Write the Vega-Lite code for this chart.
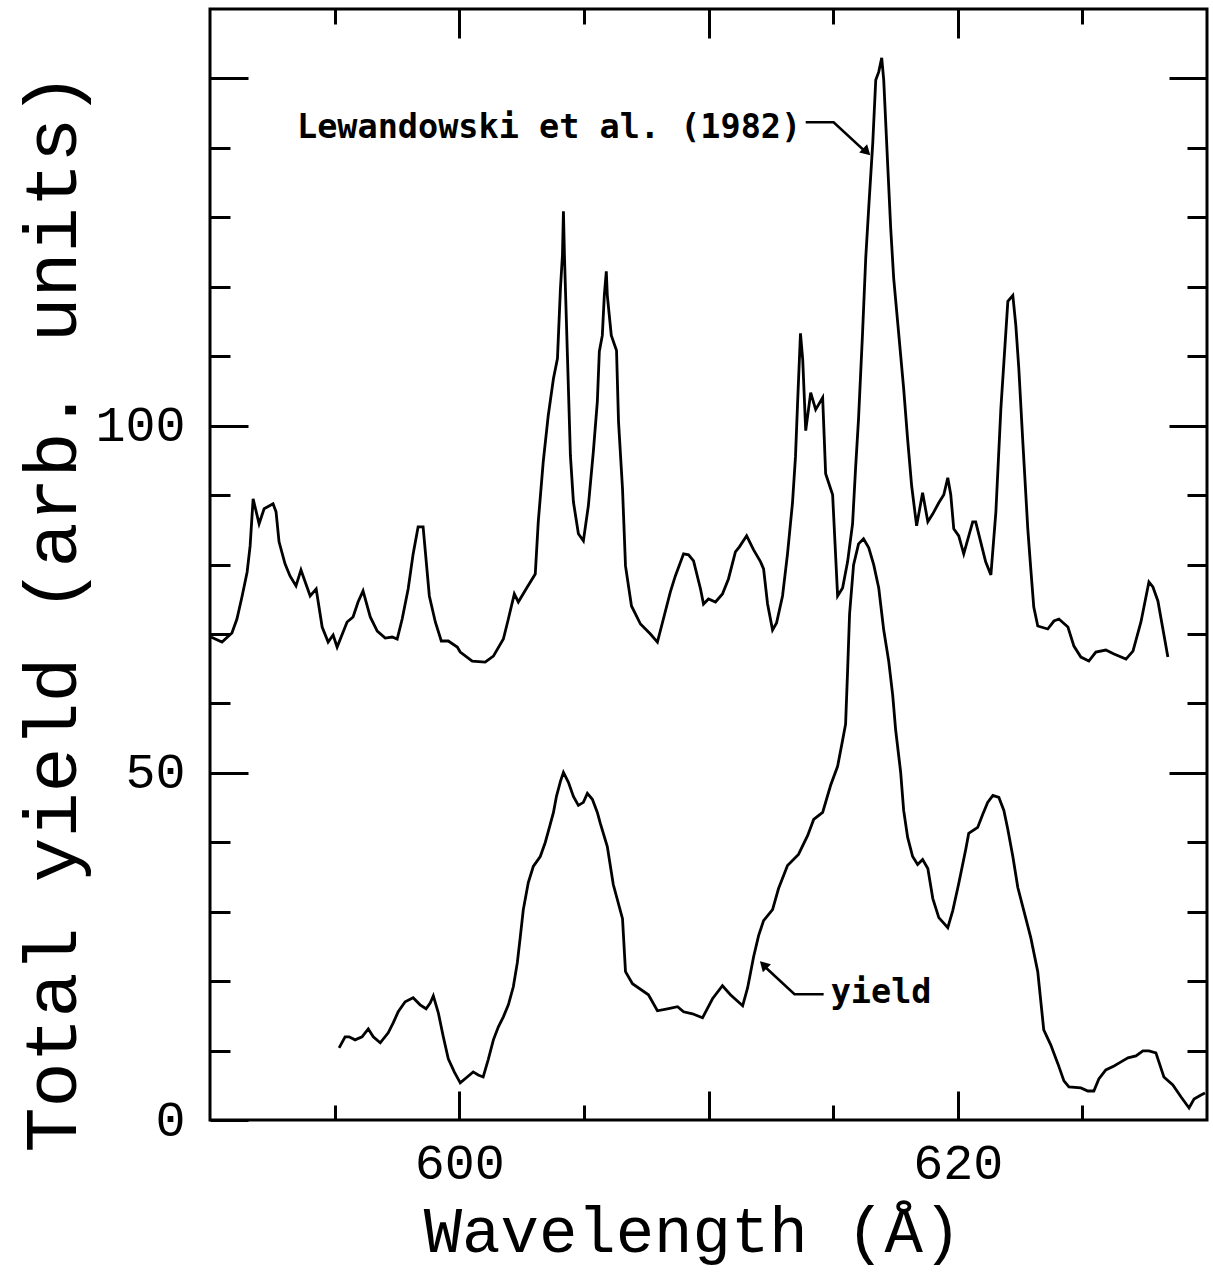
{
  "$schema": "https://vega.github.io/schema/vega-lite/v6.json",
  "width": 997,
  "height": 1111,
  "autosize": {"type": "none"},
  "padding": {"left": 210, "top": 9, "right": 6, "bottom": 157},
  "background": "white",
  "config": {
    "view": {"stroke": "black", "strokeWidth": 3},
    "axis": {"domain": false, "grid": false, "tickColor": "black", "tickWidth": 3, "labelColor": "black", "titleColor": "black", "labelFlush": false, "labelOverlap": false, "labelFont": "Liberation Mono", "titleFont": "Liberation Mono", "titleFontWeight": "normal"}
  },
  "datasets": {
    "lew": [
      {"w":590.04,"v":69.55},{"w":590.48,"v":68.83},{"w":590.88,"v":70.13},{"w":591.08,"v":72.15},{"w":591.29,"v":75.47},{"w":591.49,"v":78.93},{"w":591.61,"v":82.68},{"w":591.73,"v":89.47},{"w":591.97,"v":85.86},{"w":592.17,"v":88.02},{"w":592.53,"v":88.74},{"w":592.65,"v":87.59},{"w":592.77,"v":83.26},{"w":593.01,"v":80.09},{"w":593.21,"v":78.35},{"w":593.45,"v":76.91},{"w":593.65,"v":79.22},{"w":593.82,"v":77.49},{"w":594.02,"v":75.47},{"w":594.26,"v":76.48},{"w":594.50,"v":70.99},{"w":594.74,"v":68.83},{"w":594.94,"v":69.84},{"w":595.10,"v":68.11},{"w":595.50,"v":71.72},{"w":595.74,"v":72.44},{"w":595.94,"v":74.60},{"w":596.14,"v":76.19},{"w":596.43,"v":72.44},{"w":596.71,"v":70.42},{"w":597.03,"v":69.41},{"w":597.31,"v":69.55},{"w":597.51,"v":69.26},{"w":597.71,"v":72.15},{"w":597.95,"v":76.48},{"w":598.15,"v":81.53},{"w":598.35,"v":85.43},{"w":598.55,"v":85.43},{"w":598.80,"v":75.47},{"w":599.04,"v":71.72},{"w":599.28,"v":68.98},{"w":599.56,"v":68.98},{"w":599.92,"v":68.11},{"w":600.04,"v":67.39},{"w":600.52,"v":66.09},{"w":601.04,"v":65.95},{"w":601.37,"v":66.81},{"w":601.77,"v":69.26},{"w":601.97,"v":72.15},{"w":602.21,"v":75.76},{"w":602.37,"v":74.60},{"w":602.73,"v":76.77},{"w":603.05,"v":78.64},{"w":603.17,"v":86.15},{"w":603.37,"v":94.81},{"w":603.57,"v":101.44},{"w":603.78,"v":106.78},{"w":603.94,"v":109.67},{"w":604.06,"v":119.77},{"w":604.14,"v":124.53},{"w":604.18,"v":130.88},{"w":604.22,"v":124.53},{"w":604.34,"v":110.10},{"w":604.46,"v":95.67},{"w":604.58,"v":89.03},{"w":604.78,"v":84.42},{"w":604.98,"v":83.41},{"w":605.18,"v":88.46},{"w":605.38,"v":96.25},{"w":605.54,"v":103.46},{"w":605.62,"v":110.68},{"w":605.74,"v":112.99},{"w":605.82,"v":118.76},{"w":605.90,"v":122.22},{"w":605.94,"v":118.76},{"w":606.10,"v":112.99},{"w":606.31,"v":110.82},{"w":606.39,"v":100.58},{"w":606.55,"v":90.91},{"w":606.67,"v":79.80},{"w":606.91,"v":74.03},{"w":607.27,"v":71.43},{"w":607.67,"v":69.99},{"w":607.95,"v":68.83},{"w":608.19,"v":72.15},{"w":608.47,"v":76.05},{"w":608.67,"v":78.35},{"w":609.00,"v":81.53},{"w":609.20,"v":81.39},{"w":609.40,"v":80.52},{"w":609.68,"v":76.48},{"w":609.80,"v":74.31},{"w":610.00,"v":75.04},{"w":610.28,"v":74.60},{"w":610.56,"v":75.76},{"w":610.80,"v":77.92},{"w":611.08,"v":81.82},{"w":611.24,"v":82.54},{"w":611.53,"v":84.13},{"w":611.81,"v":82.11},{"w":612.09,"v":80.38},{"w":612.21,"v":79.37},{"w":612.37,"v":74.31},{"w":612.57,"v":70.56},{"w":612.73,"v":71.57},{"w":612.97,"v":75.47},{"w":613.17,"v":81.53},{"w":613.37,"v":88.89},{"w":613.49,"v":95.53},{"w":613.57,"v":102.89},{"w":613.69,"v":113.28},{"w":613.78,"v":109.52},{"w":613.90,"v":99.28},{"w":614.10,"v":104.76},{"w":614.30,"v":102.31},{"w":614.58,"v":104.04},{"w":614.70,"v":93.07},{"w":614.98,"v":90.04},{"w":615.18,"v":75.47},{"w":615.38,"v":76.62},{"w":615.58,"v":80.38},{"w":615.78,"v":85.86},{"w":615.90,"v":93.80},{"w":616.02,"v":101.01},{"w":616.18,"v":113.28},{"w":616.31,"v":124.24},{"w":616.43,"v":131.46},{"w":616.59,"v":140.69},{"w":616.71,"v":149.78},{"w":616.83,"v":150.94},{"w":616.95,"v":152.96},{"w":617.03,"v":149.78},{"w":617.19,"v":137.52},{"w":617.31,"v":128.43},{"w":617.43,"v":121.21},{"w":617.63,"v":113.28},{"w":617.83,"v":105.34},{"w":617.99,"v":97.98},{"w":618.15,"v":91.34},{"w":618.35,"v":85.57},{"w":618.59,"v":90.33},{"w":618.80,"v":86.15},{"w":619.00,"v":87.30},{"w":619.24,"v":88.89},{"w":619.44,"v":90.04},{"w":619.60,"v":92.50},{"w":619.72,"v":90.04},{"w":619.84,"v":85.14},{"w":620.04,"v":84.13},{"w":620.24,"v":81.53},{"w":620.60,"v":86.15},{"w":620.72,"v":86.15},{"w":620.92,"v":83.26},{"w":621.12,"v":80.38},{"w":621.33,"v":78.50},{"w":621.53,"v":87.59},{"w":621.73,"v":102.45},{"w":622.01,"v":117.89},{"w":622.21,"v":118.76},{"w":622.33,"v":114.43},{"w":622.45,"v":108.23},{"w":622.61,"v":97.69},{"w":622.81,"v":85.14},{"w":622.93,"v":79.37},{"w":623.05,"v":73.88},{"w":623.21,"v":71.14},{"w":623.61,"v":70.71},{"w":623.86,"v":71.86},{"w":624.06,"v":72.15},{"w":624.42,"v":71.00},{"w":624.66,"v":68.25},{"w":624.94,"v":66.67},{"w":625.26,"v":66.09},{"w":625.54,"v":67.39},{"w":625.94,"v":67.68},{"w":626.27,"v":67.10},{"w":626.75,"v":66.38},{"w":627.03,"v":67.53},{"w":627.35,"v":71.72},{"w":627.67,"v":77.49},{"w":627.83,"v":76.77},{"w":628.03,"v":74.75},{"w":628.43,"v":66.67}
    ],
    "yld": [
      {"w":595.18,"v":10.39},{"w":595.42,"v":11.98},{"w":595.58,"v":11.98},{"w":595.82,"v":11.54},{"w":596.10,"v":11.98},{"w":596.35,"v":13.13},{"w":596.55,"v":11.98},{"w":596.83,"v":11.11},{"w":597.15,"v":12.55},{"w":597.35,"v":14.00},{"w":597.55,"v":15.58},{"w":597.83,"v":17.03},{"w":598.15,"v":17.60},{"w":598.43,"v":16.59},{"w":598.67,"v":16.02},{"w":598.84,"v":16.88},{"w":598.96,"v":17.89},{"w":599.16,"v":15.44},{"w":599.36,"v":11.98},{"w":599.56,"v":8.80},{"w":599.80,"v":6.93},{"w":600.04,"v":5.34},{"w":600.32,"v":6.20},{"w":600.56,"v":6.93},{"w":600.76,"v":6.49},{"w":600.96,"v":6.20},{"w":601.16,"v":8.66},{"w":601.37,"v":11.54},{"w":601.57,"v":13.42},{"w":601.77,"v":14.86},{"w":601.97,"v":16.59},{"w":602.17,"v":19.19},{"w":602.33,"v":22.66},{"w":602.45,"v":26.41},{"w":602.57,"v":30.30},{"w":602.77,"v":34.20},{"w":602.97,"v":36.51},{"w":603.25,"v":37.95},{"w":603.45,"v":39.97},{"w":603.65,"v":42.57},{"w":603.78,"v":44.30},{"w":603.90,"v":46.61},{"w":604.06,"v":48.77},{"w":604.18,"v":50.07},{"w":604.38,"v":48.63},{"w":604.58,"v":46.61},{"w":604.78,"v":45.31},{"w":604.98,"v":45.74},{"w":605.14,"v":47.04},{"w":605.34,"v":46.18},{"w":605.54,"v":44.30},{"w":605.66,"v":42.71},{"w":605.94,"v":39.39},{"w":606.18,"v":33.91},{"w":606.55,"v":29.00},{"w":606.67,"v":21.36},{"w":606.95,"v":19.62},{"w":607.59,"v":18.04},{"w":607.95,"v":15.73},{"w":608.35,"v":16.02},{"w":608.76,"v":16.31},{"w":609.00,"v":15.58},{"w":609.36,"v":15.30},{"w":609.76,"v":14.72},{"w":610.16,"v":17.46},{"w":610.56,"v":19.34},{"w":610.88,"v":18.04},{"w":611.37,"v":16.45},{"w":611.57,"v":19.05},{"w":611.81,"v":23.52},{"w":612.01,"v":26.55},{"w":612.21,"v":28.72},{"w":612.57,"v":30.30},{"w":612.81,"v":33.33},{"w":613.17,"v":36.65},{"w":613.61,"v":38.24},{"w":613.98,"v":40.98},{"w":614.22,"v":43.29},{"w":614.58,"v":44.30},{"w":614.90,"v":48.20},{"w":615.18,"v":50.94},{"w":615.38,"v":54.69},{"w":615.50,"v":57.00},{"w":615.58,"v":64.65},{"w":615.66,"v":72.87},{"w":615.82,"v":79.94},{"w":616.02,"v":82.97},{"w":616.22,"v":83.69},{"w":616.43,"v":82.40},{"w":616.63,"v":79.94},{"w":616.83,"v":76.62},{"w":617.03,"v":70.56},{"w":617.23,"v":66.09},{"w":617.39,"v":61.18},{"w":617.51,"v":56.13},{"w":617.71,"v":50.07},{"w":617.83,"v":44.59},{"w":617.99,"v":40.69},{"w":618.19,"v":37.95},{"w":618.39,"v":36.80},{"w":618.59,"v":37.52},{"w":618.80,"v":36.22},{"w":619.00,"v":31.89},{"w":619.24,"v":29.15},{"w":619.60,"v":27.71},{"w":619.80,"v":30.16},{"w":620.04,"v":34.05},{"w":620.32,"v":38.96},{"w":620.44,"v":41.27},{"w":620.80,"v":42.14},{"w":621.00,"v":44.01},{"w":621.20,"v":45.74},{"w":621.41,"v":46.75},{"w":621.65,"v":46.46},{"w":621.85,"v":44.59},{"w":622.01,"v":41.85},{"w":622.21,"v":37.95},{"w":622.41,"v":33.48},{"w":622.65,"v":30.16},{"w":622.93,"v":26.26},{"w":623.21,"v":21.36},{"w":623.45,"v":12.99},{"w":623.73,"v":10.82},{"w":624.02,"v":8.08},{"w":624.26,"v":5.63},{"w":624.46,"v":4.76},{"w":624.94,"v":4.62},{"w":625.22,"v":4.18},{"w":625.46,"v":4.18},{"w":625.66,"v":5.92},{"w":625.94,"v":7.22},{"w":626.27,"v":7.79},{"w":626.55,"v":8.37},{"w":626.83,"v":8.95},{"w":627.15,"v":9.24},{"w":627.43,"v":9.96},{"w":627.67,"v":9.96},{"w":627.95,"v":9.67},{"w":628.27,"v":6.20},{"w":628.63,"v":5.05},{"w":628.96,"v":3.32},{"w":629.28,"v":1.73},{"w":629.48,"v":3.03},{"w":629.76,"v":3.61},{"w":629.92,"v":3.90}
    ],
    "ann": [
      {"seg":"a","o":1,"w":613.9,"v":143.7},{"seg":"a","o":2,"w":615.02,"v":143.7},{"seg":"a","o":3,"w":616.25,"v":139.6},
      {"seg":"b","o":1,"w":614.62,"v":18.1},{"seg":"b","o":2,"w":613.45,"v":18.1},{"seg":"b","o":3,"w":612.25,"v":22.1}
    ],
    "txt": [
      {"w":593.49,"v":142.8,"t":"Lewandowski et al. (1982)"},
      {"w":614.9,"v":18.3,"t":"yield"}
    ]
  },
  "resolve": {"axis": {"x": "independent", "y": "independent"}},
  "layer": [
    {
      "data": {"name": "lew"},
      "mark": {"type": "line", "color": "black", "strokeWidth": 2.8},
      "encoding": {
        "x": {"field": "w", "type": "quantitative", "scale": {"domain": [590, 630], "nice": false, "zero": false},
          "axis": {"orient": "bottom", "values": [600, 610, 620], "tickSize": -29, "labelExpr": "datum.value == 610 ? '' : datum.label", "labelFontSize": 50, "labelPadding": 47, "title": "Wavelength (Å)", "titleFontSize": 64, "titleX": 482, "titleY": 131, "titleBaseline": "alphabetic"}},
        "y": {"field": "v", "type": "quantitative", "scale": {"domain": [0, 160], "nice": false},
          "axis": {"orient": "left", "values": [0, 50, 100, 150], "tickSize": -38, "labelExpr": "datum.value == 150 ? '' : datum.label", "labelFontSize": 50, "labelPadding": 63, "title": "Total yield (arb. units)", "titleFontSize": 75, "titleX": -119, "titleY": 603}}
      }
    },
    {
      "data": {"name": "yld"},
      "mark": {"type": "line", "color": "black", "strokeWidth": 2.8},
      "encoding": {
        "x": {"field": "w", "type": "quantitative", "axis": {"orient": "bottom", "values": [595, 605, 615, 625], "tickSize": -15, "labels": false, "title": null}},
        "y": {"field": "v", "type": "quantitative", "axis": {"orient": "left", "values": [10, 20, 30, 40, 60, 70, 80, 90, 110, 120, 130, 140], "tickSize": -20, "labels": false, "title": null}}
      }
    },
    {
      "data": {"name": "ann"},
      "mark": {"type": "line", "color": "black", "strokeWidth": 2.6},
      "encoding": {
        "x": {"field": "w", "type": "quantitative", "axis": {"orient": "top", "values": [600, 610, 620], "tickSize": -29, "labels": false, "title": null}},
        "y": {"field": "v", "type": "quantitative", "axis": {"orient": "right", "values": [50, 100, 150], "tickSize": -38, "labels": false, "title": null}},
        "detail": {"field": "seg"},
        "order": {"field": "o"}
      }
    },
    {
      "data": {"name": "txt"},
      "mark": {"type": "text", "align": "left", "baseline": "middle", "font": "DejaVu Sans Mono", "fontSize": 33.5, "fontWeight": "bold", "color": "black"},
      "encoding": {
        "x": {"field": "w", "type": "quantitative", "axis": {"orient": "top", "values": [595, 605, 615, 625], "tickSize": -15, "labels": false, "title": null}},
        "y": {"field": "v", "type": "quantitative", "axis": {"orient": "right", "values": [10, 20, 30, 40, 60, 70, 80, 90, 110, 120, 130, 140], "tickSize": -20, "labels": false, "title": null}},
        "text": {"field": "t"}
      }
    },
    {
      "data": {"values": [{"w": 616.3, "v": 139.6}]},
      "mark": {"type": "point", "shape": "triangle", "filled": true, "color": "black", "size": 130, "angle": 134, "opacity": 1},
      "encoding": {
        "x": {"field": "w", "type": "quantitative", "axis": null},
        "y": {"field": "v", "type": "quantitative", "axis": null}
      }
    },
    {
      "data": {"values": [{"w": 612.25, "v": 22.2}]},
      "mark": {"type": "point", "shape": "triangle", "filled": true, "color": "black", "size": 130, "angle": 315, "opacity": 1},
      "encoding": {
        "x": {"field": "w", "type": "quantitative", "axis": null},
        "y": {"field": "v", "type": "quantitative", "axis": null}
      }
    }
  ]
}
